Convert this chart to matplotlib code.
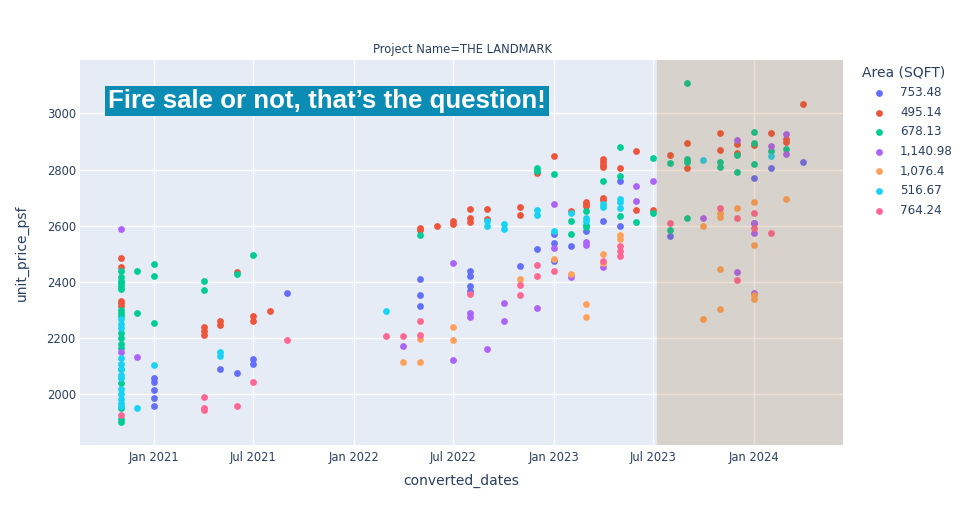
import pandas as pd
import matplotlib
matplotlib.use("Agg")
import matplotlib.pyplot as plt
import matplotlib.dates as mdates

# data (month of sale, unit price psf)
blue_dates = ["2021-01"] * 5 + ["2021-05", "2021-06", "2021-07", "2021-07", "2021-09"] + ["2022-05"] * 3 + ["2022-08"] * 4 + [
    "2022-11", "2022-12", "2023-01", "2023-01", "2023-01", "2023-02", "2023-03", "2023-04", "2023-05", "2023-05",
    "2023-08", "2024-01", "2024-01", "2024-02", "2024-04"]
blue_prices = [2059, 2044, 2016, 1989, 1960, 2091, 2075, 2125, 2109, 2360, 2412, 2352, 2314, 2440, 2421, 2385, 2369,
               2458, 2518, 2571, 2538, 2474, 2528, 2582, 2618, 2759, 2600, 2565, 2769, 2610, 2806, 2828]

red_dates = ["2020-11"] * 5 + ["2021-04"] * 3 + ["2021-05"] * 2 + ["2021-06"] + ["2021-07"] * 2 + ["2021-08"] + \
    ["2022-05"] * 2 + ["2022-06"] + ["2022-07"] * 2 + ["2022-08"] * 3 + ["2022-09"] * 2 + ["2022-11"] * 2 + \
    ["2022-12", "2023-01", "2023-02"] + ["2023-03"] * 3 + ["2023-04"] * 6 + ["2023-05"] + ["2023-06"] * 2 + \
    ["2023-07", "2023-08"] + ["2023-09"] * 2 + ["2023-11"] * 2 + ["2023-12"] * 2 + ["2024-01", "2024-02"] + \
    ["2024-03"] * 2 + ["2024-04"]
red_prices = [2485, 2452, 2332, 2324, 2315, 2240, 2225, 2210, 2263, 2247, 2435, 2279, 2263, 2296,
              2593, 2585, 2600, 2618, 2608, 2659, 2626, 2614, 2659, 2625, 2668, 2640,
              2787, 2847, 2653, 2684, 2677, 2670, 2838, 2828, 2818, 2808, 2700, 2691, 2804, 2867, 2658,
              2658, 2853, 2894, 2804, 2929, 2868, 2891, 2860, 2888, 2929, 2908, 2899, 3035]

green_dates = ["2020-11"] * 18 + ["2020-12"] * 2 + ["2021-01"] * 3 + ["2021-04"] * 2 + ["2021-06", "2021-07", "2022-05"] + \
    ["2022-12"] * 2 + ["2023-01"] + ["2023-02"] * 2 + ["2023-03"] * 3 + ["2023-04"] + ["2023-05"] * 3 + ["2023-06"] + \
    ["2023-07"] * 2 + ["2023-08"] * 2 + ["2023-09"] * 4 + ["2023-11"] * 2 + ["2023-12"] * 2 + ["2024-01"] * 3 + \
    ["2024-02", "2024-03"]
green_prices = [2439, 2418, 2405, 2395, 2385, 2375, 2300, 2290, 2280, 2220, 2200, 2180, 2165, 2090, 2040, 1950, 1911, 1903,
                2439, 2289, 2463, 2420, 2254, 2403, 2370, 2428, 2497, 2567,
                2804, 2796, 2784, 2617, 2572, 2652, 2602, 2594, 2759, 2879, 2779, 2636, 2614,
                2843, 2646, 2824, 2584, 3108, 2837, 2828, 2629, 2828, 2809, 2853, 2790, 2935, 2893, 2819,
                2867, 2873]

purple_dates = ["2020-11", "2020-11", "2020-12", "2022-04", "2022-07", "2022-07", "2022-08", "2022-08", "2022-09",
                "2022-10", "2022-10", "2022-12", "2023-01", "2023-01", "2023-02", "2023-03", "2023-03", "2023-04",
                "2023-06", "2023-06", "2023-07", "2023-10", "2023-12", "2023-12", "2024-01", "2024-01", "2024-01",
                "2024-02", "2024-03", "2024-03"]
purple_prices = [2590, 2150, 2133, 2174, 2468, 2123, 2290, 2275, 2161, 2325, 2261, 2308, 2678, 2522, 2419, 2542, 2530,
                 2452, 2741, 2689, 2760, 2626, 2905, 2435, 2610, 2575, 2360, 2884, 2927, 2856]

orange_dates = ["2022-04", "2022-05", "2022-05", "2022-07", "2022-07", "2022-11", "2023-01", "2023-02", "2023-03",
                "2023-03", "2023-04", "2023-04", "2023-05", "2023-05", "2023-10", "2023-10", "2023-11", "2023-11",
                "2023-11", "2023-11", "2023-12", "2024-01", "2024-01", "2024-01", "2024-01", "2024-03"]
orange_prices = [2116, 2196, 2116, 2241, 2193, 2412, 2481, 2428, 2320, 2274, 2499, 2466, 2569, 2552, 2598, 2270,
                 2645, 2631, 2447, 2305, 2665, 2683, 2531, 2352, 2338, 2694]

cyan_dates = ["2020-11"] * 13 + ["2020-12", "2021-01", "2021-05", "2021-05", "2022-03", "2022-09", "2022-09",
                                 "2022-10", "2022-10", "2022-12", "2022-12", "2023-01", "2023-02", "2023-03", "2023-03",
                                 "2023-04", "2023-04", "2023-05", "2023-05", "2023-05", "2023-10", "2024-02"]
cyan_prices = [2270, 2250, 2235, 2130, 2110, 2090, 2070, 2060, 2020, 2000, 1985, 1970, 1960,
               1953, 2103, 2152, 2135, 2298, 2616, 2599, 2606, 2589, 2656, 2638, 2582, 2646, 2626, 2618,
               2677, 2668, 2697, 2685, 2662, 2833, 2849]

pink_dates = ["2020-11", "2021-04", "2021-04", "2021-04", "2021-06", "2021-07", "2021-09", "2022-03", "2022-04",
              "2022-05", "2022-05", "2022-08", "2022-11", "2022-11", "2022-12", "2022-12", "2023-01", "2023-04",
              "2023-05", "2023-05", "2023-05", "2023-08", "2023-11", "2023-12", "2023-12", "2024-01", "2024-01",
              "2024-02"]
pink_prices = [1926, 1990, 1953, 1944, 1958, 2043, 2194, 2207, 2207, 2261, 2210, 2357, 2388, 2352, 2459, 2421, 2440,
               2475, 2528, 2511, 2492, 2610, 2664, 2629, 2407, 2645, 2593, 2575]

legend_labels = ["753.48", "495.14", "678.13", "1,140.98", "1,076.4", "516.67", "764.24"]
colors = ["#636efa", "#EF553B", "#00cc96", "#ab63fa", "#FFA15A", "#19d3f3", "#FF6692"]

series = [(blue_dates, blue_prices), (red_dates, red_prices), (green_dates, green_prices),
          (purple_dates, purple_prices), (orange_dates, orange_prices), (cyan_dates, cyan_prices),
          (pink_dates, pink_prices)]

W, H = 971, 525
fig = plt.figure(figsize=(W / 100, H / 100), dpi=100)
ax = fig.add_axes([80 / W, 1 - 445 / H, (843.3 - 80) / W, (445 - 60) / H])
ax.set_facecolor("#e5ecf6")

for (d, p), lab, c in zip(series, legend_labels, colors):
    ax.scatter(pd.to_datetime(d), p, s=24, color=c, linewidths=0, label=lab, zorder=3)

x_left = pd.Timestamp("2020-08-18")
x_right = pd.Timestamp("2024-06-13")
# shaded period, drawn above the markers like the plotly shape
ax.axvspan(pd.Timestamp("2023-07-09"), x_right, color="#a46a29", alpha=0.2, lw=0, zorder=4)

ax.set_xlim(x_left, x_right)
ax.set_ylim(1820, 3190)
ax.set_yticks([2000, 2200, 2400, 2600, 2800, 3000])
ax.xaxis.set_major_locator(mdates.MonthLocator(bymonth=[1, 7]))
ax.xaxis.set_major_formatter(mdates.DateFormatter("%b %Y"))
ax.grid(color="white", lw=1)
ax.set_axisbelow(True)
for s in ax.spines.values():
    s.set_visible(False)
ax.tick_params(length=0, colors="#2a3f5f", labelsize=8.3)
ax.tick_params(axis="y", pad=3)
ax.tick_params(axis="x", pad=4)

ax.set_ylabel("unit_price_psf", fontsize=10, color="#2a3f5f", va="center")
ax.yaxis.set_label_coords((22 - 80) / 763.3, 0.5)
ax.set_xlabel("converted_dates", fontsize=10, color="#2a3f5f", va="center")
ax.xaxis.set_label_coords(0.5, (445 - 481) / 385)

fig.text(462 / W, 1 - 50 / H, "Project Name=THE LANDMARK", ha="center", va="center", fontsize=8.3, color="#2a3f5f")

fig.text(327 / W, 1 - 101 / H, "Fire sale or not, that\u2019s the question!", ha="center", va="center",
         fontsize=18.6, fontweight="bold", family="Liberation Sans", color="white",
         bbox=dict(boxstyle="square,pad=0.12", fc="#0b8cb4", ec="none"))

leg = ax.legend(title="Area (SQFT)", loc="upper left", bbox_to_anchor=(857 / W, 1 - 61 / H),
                bbox_transform=fig.transFigure, frameon=False, fontsize=8.6, title_fontsize=10,
                alignment="left", handlelength=2.9, handletextpad=0.3, labelspacing=0.55, borderaxespad=0)
for t in leg.get_texts():
    t.set_color("#2a3f5f")
leg.get_title().set_color("#2a3f5f")

fig.savefig("out.png", dpi=100)
